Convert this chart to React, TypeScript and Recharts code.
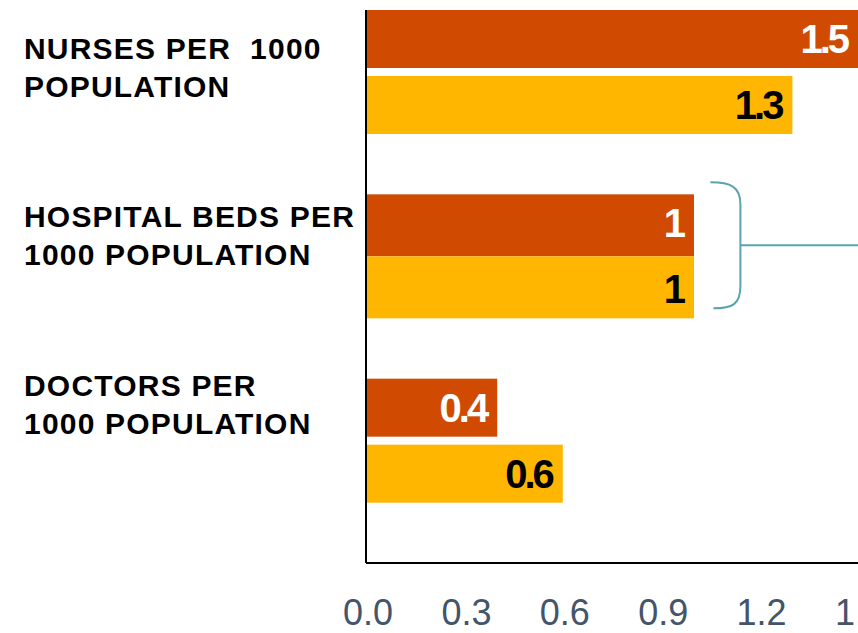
import React from "react";
import {
  Bar,
  BarChart,
  LabelList,
  ReferenceArea,
  XAxis,
  YAxis,
} from "recharts";

// three rows, two series; the third series is empty but still takes its slot
// in each band, which is why the bars sit at the top of every row
const categories = [
  "NURSES PER  1000\nPOPULATION",
  "HOSPITAL BEDS PER\n1000 POPULATION",
  "DOCTORS PER\n1000 POPULATION",
];
const primaryValues = [1.5, 1, 0.4];
const comparisonValues = [1.3, 1, 0.6];
const emptyValues: (number | null)[] = [null, null, null];
const xTicks = [0, 0.3, 0.6, 0.9, 1.2, 1.5];

// the bracket next to the hospital beds row (data coords)
const bracketRow = categories[1];
const bracketFrom = 1.05;
const bracketTo = 1.5;

const data = categories.map((category, i) => ({
  category,
  primary: primaryValues[i],
  comparison: comparisonValues[i],
  empty: emptyValues[i],
}));

const ORANGE = "#D04A02";
const YELLOW = "#FFB600";
const TEAL = "#5AA3AF";
const FONT = "'Liberation Sans', Arial, Helvetica, sans-serif";

// the hospital beds pair is drawn without the white gap between its bars
const HALF_GAP = 4;
const joinedRows = new Set([categories[1]]);

function joinedShape(direction: "down" | "up") {
  return (p: any) => {
    const j = joinedRows.has(p.payload?.category) ? HALF_GAP : 0;
    return (
      <rect
        x={p.x}
        y={direction === "up" ? p.y - j : p.y}
        width={p.width}
        height={p.height + j}
        fill={p.fill}
      />
    );
  };
}

// category text boxes sit on a slightly tighter pitch than the bands
const LABEL_X = 24;
const LABEL_PITCH = 0.916;
const LABEL_SHIFT = -35;
const LINE_HEIGHT = 38;

function CategoryTick({ y, payload }: any) {
  const lines = String(payload.value).split("\n");
  return (
    <text
      x={LABEL_X}
      y={y * LABEL_PITCH + LABEL_SHIFT}
      fontSize={30}
      fontWeight={700}
      fill="#000"
      letterSpacing={1.2}
      style={{ whiteSpace: "pre" }}
    >
      {lines.map((line, i) => (
        <tspan key={i} x={LABEL_X} dy={i === 0 ? 0 : LINE_HEIGHT}>
          {line}
        </tspan>
      ))}
    </text>
  );
}

function valueLabel(color: string) {
  return (p: any) => {
    if (p.value == null) return null;
    return (
      <text
        x={p.x + p.width - 11}
        y={p.y + p.height / 2}
        textAnchor="end"
        dominantBaseline="central"
        fontSize={40}
        fontWeight={700}
        letterSpacing={-3}
        fill={color}
      >
        {String(p.value)}
      </text>
    );
  };
}

function Bracket(p: any) {
  const { x, y, width } = p;
  const top = y - 12;
  const bottom = y + 114;
  const mid = (top + bottom) / 2;
  const xb = x + 30;
  return (
    <g fill="none" stroke={TEAL} strokeWidth={2}>
      <path
        d={`M${x},${top} C${x + 20},${top} ${xb},${top + 4} ${xb},${top + 22} L${xb},${bottom - 22} C${xb},${bottom - 4} ${x + 22},${bottom} ${x + 3},${bottom}`}
      />
      <line x1={xb} y1={mid} x2={x + width} y2={mid} />
    </g>
  );
}

export default function App() {
  return (
    <div
      style={{
        position: "absolute",
        left: 0,
        top: 0,
        width: 858,
        height: 633,
        overflow: "hidden",
        background: "#fff",
        fontFamily: FONT,
      }}
    >
      <BarChart
        width={900}
        height={633}
        data={data}
        layout="vertical"
        margin={{ top: 10, right: 42, bottom: 0, left: 0 }}
        barGap={8}
        barCategoryGap={0}
      >
        <XAxis
          type="number"
          domain={[0, 1.5]}
          ticks={xTicks}
          allowDataOverflow
          height={70}
          axisLine={{ stroke: "#000", strokeWidth: 2 }}
          tickLine={false}
          tickMargin={30}
          tickFormatter={(v: number) => v.toFixed(1)}
          tick={{ fontSize: 36, fill: "#44546A", fontFamily: FONT, dx: 2 }}
        />
        <YAxis
          type="category"
          dataKey="category"
          width={366}
          axisLine={{ stroke: "#000", strokeWidth: 2 }}
          tickLine={false}
          tick={<CategoryTick />}
        />
        <Bar
          dataKey="primary"
          fill={ORANGE}
          barSize={58}
          isAnimationActive={false}
          shape={joinedShape("down")}
        >
          <LabelList dataKey="primary" content={valueLabel("#fff")} />
        </Bar>
        <Bar
          dataKey="comparison"
          fill={YELLOW}
          barSize={58}
          isAnimationActive={false}
          shape={joinedShape("up")}
        >
          <LabelList dataKey="comparison" content={valueLabel("#000")} />
        </Bar>
        <Bar
          dataKey="empty"
          fill="transparent"
          barSize={52}
          isAnimationActive={false}
        />
        <ReferenceArea
          y1={bracketRow}
          y2={bracketRow}
          x1={bracketFrom}
          x2={bracketTo}
          ifOverflow="visible"
          shape={<Bracket />}
        />
      </BarChart>
    </div>
  );
}
